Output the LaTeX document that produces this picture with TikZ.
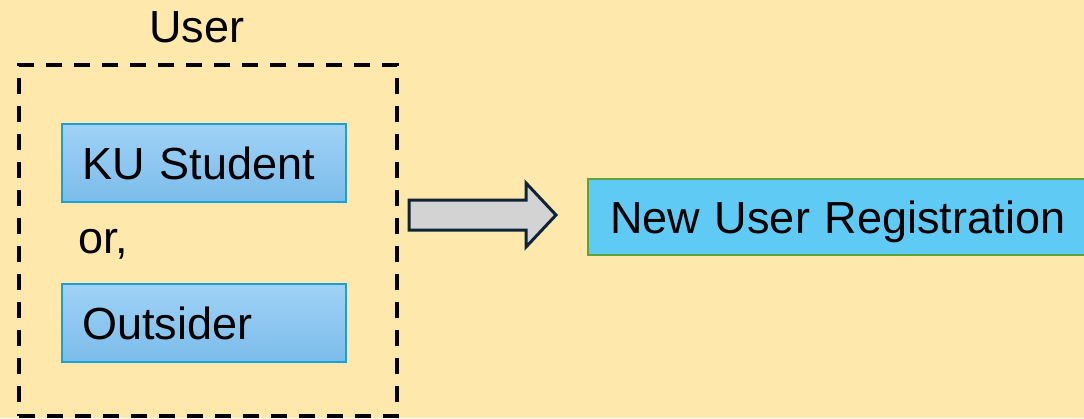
\documentclass[tikz,border=0pt]{standalone}
\usepackage{fontspec}
\setmainfont{Liberation Sans}
\definecolor{bg}{HTML}{FEE8AB}
\definecolor{boxtop}{HTML}{A0D2F6}
\definecolor{boxbot}{HTML}{7BBCEA}
\definecolor{boxline}{HTML}{18A0DA}
\definecolor{regfill}{HTML}{5FCAF4}
\definecolor{regline}{HTML}{5BA63C}
\definecolor{arrline}{HTML}{0D2436}
\definecolor{arrfill}{HTML}{D3D3D3}
\tikzset{
  bigtext/.style={font=\fontsize{45}{50}\selectfont},
  rolebox/.style={bigtext, draw=boxline, line width=2pt, top color=boxtop, bottom color=boxbot,
    anchor=north west, minimum width=284pt, minimum height=78pt, inner xsep=20pt,
    text width=244pt, align=left, text height=32pt, text depth=0pt},
  regbox/.style={bigtext, draw=regline, line width=2pt, fill=regfill,
    anchor=north west, minimum width=530pt, minimum height=76pt, inner xsep=22pt,
    text width=486pt, align=left, text height=32pt, text depth=0pt},
  groupbox/.style={draw=black, line width=3.5pt, dash pattern=on 16pt off 12pt,
    minimum width=378pt, minimum height=351pt, inner sep=0pt},
  blockarrow/.style={draw=arrline, fill=arrfill, line width=3pt, line join=miter},
}
\begin{document}
\begin{tikzpicture}[x=1pt, y=-1pt]
\clip (0,0) rectangle (1084,418);
\fill[bg] (0,0) rectangle (1084,418);
\node[groupbox] (group) at (208,240.5) {};
\node[bigtext, anchor=base] (userlabel) at (197,42) {User};
\node[rolebox] (ku) at (61,123) {KU Student};
\node[bigtext, anchor=base west, inner sep=0pt] (or) at (78,253) {or,};
\node[rolebox] (out) at (61,283) {Outsider};
\node[regbox] (reg) at (587,178) {New User Registration};
\coordinate (a0) at (409,215);
\draw[blockarrow] (a0) ++(0,-15) -- ++(117,0) -- ++(0,-17) -- (556,215) -- (526,247) -- ++(0,-17) -- ++(-117,0) -- cycle;
\end{tikzpicture}
\end{document}
